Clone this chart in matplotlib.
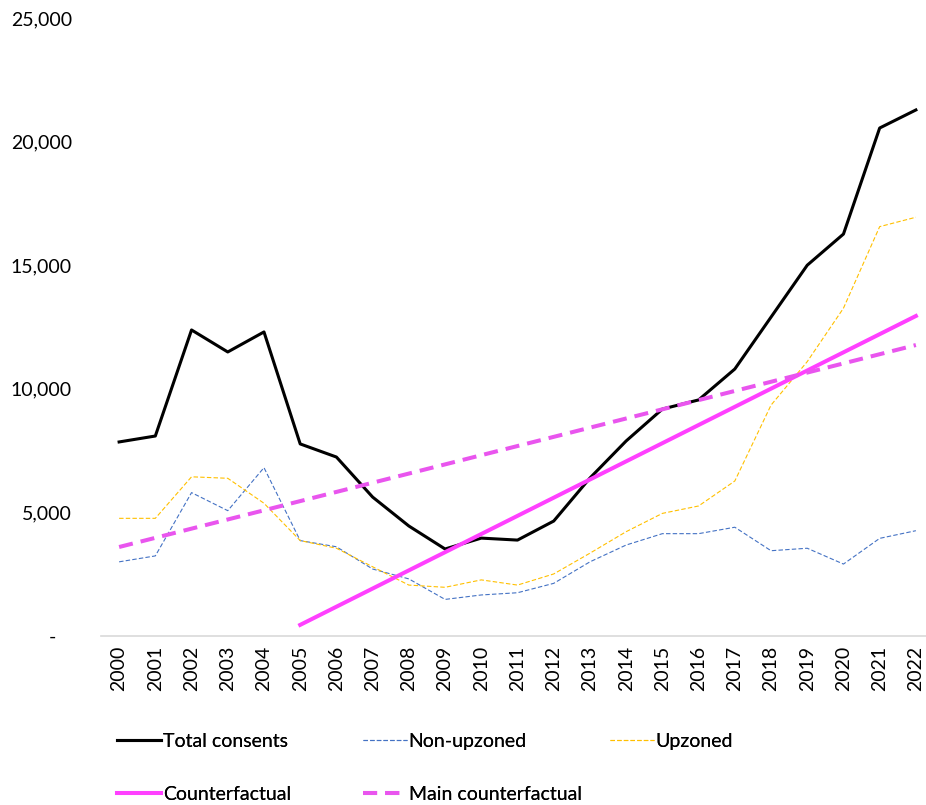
import matplotlib
matplotlib.use('Agg')
import matplotlib.pyplot as plt
from matplotlib.ticker import FuncFormatter

# data
years = [str(y) for y in range(2000, 2023)]
total_consents = [7850, 8090, 12380, 11490, 12300, 7770, 7240, 5620, 4450, 3520, 3960,
                  3880, 4650, 6390, 7890, 9180, 9550, 10800, 12900, 15000, 16260, 20550, 21280]
non_upzoned = [3000, 3240, 5800, 5070, 6810, 3860, 3610, 2710, 2310, 1480, 1660,
               1750, 2130, 3000, 3680, 4140, 4140, 4400, 3450, 3550, 2910, 3950, 4260]
upzoned = [4760, 4760, 6440, 6380, 5370, 3860, 3550, 2800, 2060, 1970, 2270,
           2060, 2510, 3350, 4220, 4960, 5260, 6270, 9340, 11100, 13260, 16560, 16940]
cf_years = years[5:]
counterfactual = [450, 1185, 1920, 2655, 3390, 4125, 4860, 5595, 6330, 7065, 7800,
                  8535, 9270, 10005, 10740, 11475, 12210, 12945]
main_counterfactual = [3600, 3971, 4343, 4714, 5085, 5457, 5828, 6200, 6571, 6942, 7314,
                       7685, 8056, 8428, 8799, 9170, 9542, 9913, 10284, 10656, 11027,
                       11399, 11770]

plt.rcParams['font.family'] = ['Lato', 'DejaVu Sans']

fig = plt.figure(figsize=(9.26, 8.05), dpi=100)
ax = fig.add_axes([101/926, 169/805, 833/926, 618/805])

x_all = list(range(len(years)))
x_cf = list(range(5, len(years)))

l_total, = ax.plot(x_all, total_consents, color='black', lw=2.2, label='Total consents')
l_non, = ax.plot(x_all, non_upzoned, color='#4472C4', lw=0.8, dashes=(4, 2), label='Non-upzoned')
l_up, = ax.plot(x_all, upzoned, color='#FFC000', lw=0.8, dashes=(4, 2), label='Upzoned')
l_cf, = ax.plot(x_cf, counterfactual, color='#FF40FF', lw=2.9, label='Counterfactual')
l_main, = ax.plot(x_all, main_counterfactual, color='#E955EE', lw=2.9, dashes=(3.5, 2),
                  label='Main counterfactual')

ax.set_xlim(-0.5, len(years) - 0.5)
ax.set_ylim(0, 25000)
ax.set_xticks(x_all)
ax.set_xticklabels(years, rotation=90, fontsize=14)
ax.set_yticks(range(0, 25001, 5000))
ax.yaxis.set_major_formatter(FuncFormatter(lambda v, p: '-   ' if v == 0 else f'{int(v):,}'))
ax.tick_params(axis='y', length=0, pad=21, labelsize=14)
ax.tick_params(axis='x', length=0, pad=7)
for s in ['top', 'right', 'left']:
    ax.spines[s].set_visible(False)
ax.spines['bottom'].set_color('#D9D9D9')
ax.spines['bottom'].set_linewidth(1.2)

# legend laid out in Excel-style fixed columns
cols = [([l_total, l_cf], 117/926), ([l_non, l_main], 363/926), ([l_up], 610/926)]
for handles, xpos in cols:
    leg = fig.legend(handles=handles, loc='upper left', bbox_to_anchor=(xpos, 1 - 733/805),
                     frameon=False, fontsize=14, handlelength=2.25, handletextpad=0.1,
                     labelspacing=1.85, borderaxespad=0, borderpad=0)
    fig.add_artist(leg)

fig.savefig('out.png', dpi=100)
